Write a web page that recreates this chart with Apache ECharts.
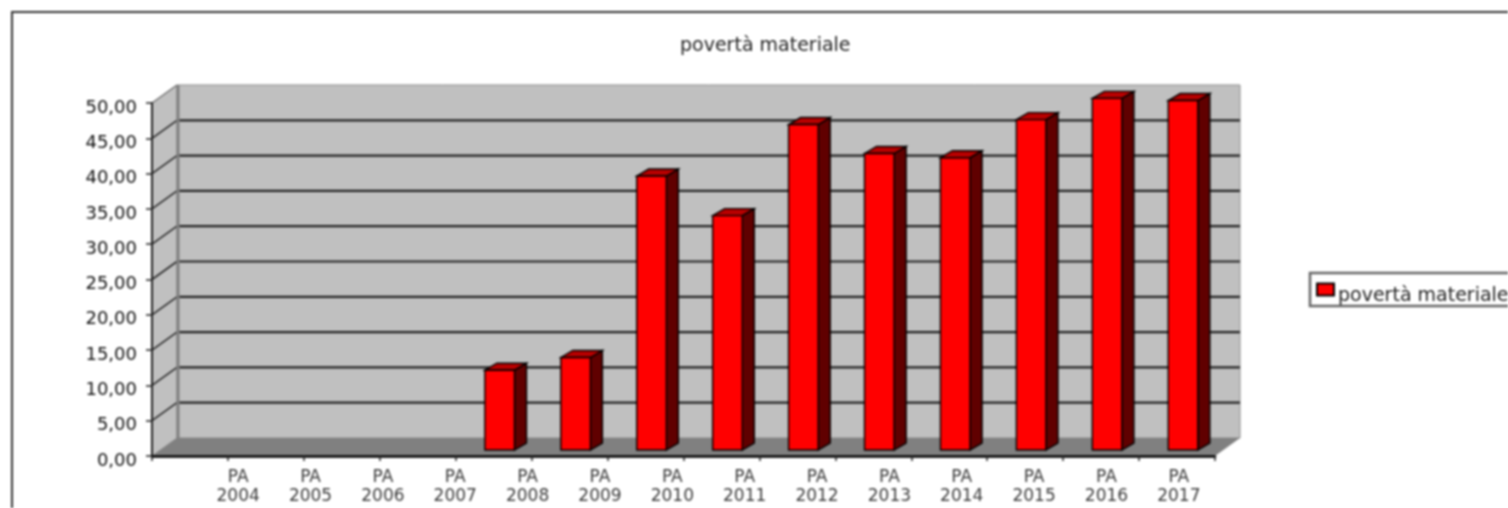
<!DOCTYPE html>
<html><head><meta charset="utf-8">
<style>html,body{margin:0;padding:0;background:#fff;overflow:hidden}#c{width:1508px;height:508px;filter:blur(0.8px)}</style>
<script src="https://cdn.jsdelivr.net/npm/echarts@6/dist/echarts.min.js"></script>
</head><body><div id="c"></div>
<script>
const chartTitle = 'povertà materiale';
const seriesName = 'povertà materiale';
const categories = ['PA\n2004','PA\n2005','PA\n2006','PA\n2007','PA\n2008','PA\n2009','PA\n2010','PA\n2011','PA\n2012','PA\n2013','PA\n2014','PA\n2015','PA\n2016','PA\n2017'];
const values = [null,null,null,null,11.3,13.1,38.8,33.2,46.1,42.0,41.4,46.8,49.8,49.5];
const yTicks = [0,5,10,15,20,25,30,35,40,45,50];

const font = '"DejaVu Sans"';
const wallDepth = [25,-18], barShift = [6,-6], barDepth = [12,-7];

function poly(pts, fill, stroke, lw){
  return {type:'polygon', shape:{points:pts}, style:{fill:fill, stroke:stroke||null, lineWidth:lw||0}};
}
function line(a,b,stroke,lw){
  return {type:'line', shape:{x1:a[0],y1:a[1],x2:b[0],y2:b[1]}, style:{stroke:stroke,lineWidth:lw,fill:null}};
}
function renderWalls(params, api){
  const cs = params.coordSys, L = cs.x, R = cs.x+cs.width;
  const y0 = api.coord([0,0])[1], yT = api.coord([0,50])[1];
  const dx = wallDepth[0], dy = wallDepth[1];
  const ch = [
    poly([[L+dx,yT+dy],[R+dx,yT+dy],[R+dx,y0+dy],[L+dx,y0+dy]],'#c0c0c0','#8c8c8c',1),
    poly([[L,yT],[L+dx,yT+dy],[L+dx,y0+dy],[L,y0]],'#c0c0c0','#8c8c8c',1),
    poly([[L,y0],[L+dx,y0+dy],[R+dx,y0+dy],[R,y0]],'#808080')
  ];
  yTicks.forEach(t=>{
    if(t===0||t===50){
      if(t===50) ch.push(line([L,yT],[L+dx,yT+dy],'#777',1.5));
      return;
    }
    const y = api.coord([0,t])[1];
    ch.push(line([L,y],[L+dx,y+dy],'#2a2a2a',1.6));
    ch.push(line([L+dx,y+dy],[R+dx,y+dy],'#222',2.2));
  });
  ch.push(line([L+dx+1,yT+dy],[L+dx+1,y0+dy],'#808080',3));
  return {type:'group',children:ch};
}
function renderBar(params, api){
  const i = api.value(0), v = api.value(1);
  const p = api.coord([i,v]), b = api.coord([i,0]), w = api.size([1,0])[0]*0.39;
  const xl = p[0]-w/2+barShift[0], xr = xl+w;
  const yt = p[1]+barShift[1], yb = b[1]+barShift[1];
  const dx = barDepth[0], dy = barDepth[1];
  return {type:'group',children:[
    poly([[xr,yt],[xr+dx,yt+dy],[xr+dx,yb+dy],[xr,yb]],'#600000','#000',1.4),
    poly([[xl,yt],[xl+dx,yt+dy],[xr+dx,yt+dy],[xr,yt]],'#b80000','#000',1.4),
    poly([[xl,yt],[xr,yt],[xr,yb],[xl,yb]],'#ff0000','#000',1.4)
  ]};
}
const barData = categories.map((c,i)=>[i,values[i]]).filter(d=>d[1]!==null);

const chart = echarts.init(document.getElementById('c'),null,{renderer:'canvas'});
chart.setOption({
  animation:false,
  backgroundColor:'#fff',
  title:{text:chartTitle,left:675,top:32,
    textStyle:{fontFamily:font,fontSize:19,fontWeight:'normal',color:'#222'}},
  legend:{data:[seriesName],left:1310,top:273,orient:'vertical',padding:[0,40,0,6],
    borderColor:'#666',borderWidth:2.5,backgroundColor:'#fff',
    itemWidth:17,itemHeight:12,itemGap:0,icon:'rect',
    formatter:'{a|{name}}',
    textStyle:{rich:{a:{fontFamily:font,fontSize:19,color:'#222',lineHeight:19,padding:[14,0,0,-1]}}}},
  graphic:[{type:'rect',shape:{x:12,y:12,width:1520,height:520},z:-1,
    style:{fill:'#fff',stroke:'#333',lineWidth:2}}],
  grid:[
    {left:152,top:103,width:1063,height:353},
    {left:202,top:103,width:1013,height:353}
  ],
  xAxis:[
    {type:'category',gridIndex:0,data:categories,z:5,
     axisLine:{lineStyle:{color:'#000',width:2.5}},
     axisTick:{show:true,length:5,alignWithLabel:false,lineStyle:{color:'#222',width:1.5}},
     axisLabel:{show:false}},
    {type:'category',gridIndex:1,data:categories,
     axisLine:{show:false},axisTick:{show:false},
     axisLabel:{show:true,interval:0,margin:12,fontFamily:font,fontSize:17,lineHeight:19,color:'#3a3a3a'}}
  ],
  yAxis:[
    {type:'value',gridIndex:0,min:0,max:50,interval:5,z:5,
     axisLine:{show:true,lineStyle:{color:'#222',width:2}},
     axisTick:{show:true,length:6,lineStyle:{color:'#222',width:1.5}},
     splitLine:{show:false},
     axisLabel:{margin:15,fontFamily:font,fontSize:18,color:'#111',verticalAlign:'top',lineHeight:10,
       formatter:v=>v.toFixed(2).replace('.',',')}},
    {type:'value',gridIndex:1,min:0,max:50,interval:5,show:false}
  ],
  series:[
    {type:'custom',name:'wall',xAxisIndex:0,yAxisIndex:0,z:1,silent:true,clip:false,
     data:[[0,0]],encode:{x:0,y:1},renderItem:renderWalls},
    {type:'custom',name:seriesName,xAxisIndex:0,yAxisIndex:0,z:2,clip:false,
     itemStyle:{color:'#ff0000',borderColor:'#000',borderWidth:1},
     data:barData,encode:{x:0,y:1},renderItem:renderBar}
  ]
});
</script></body></html>
